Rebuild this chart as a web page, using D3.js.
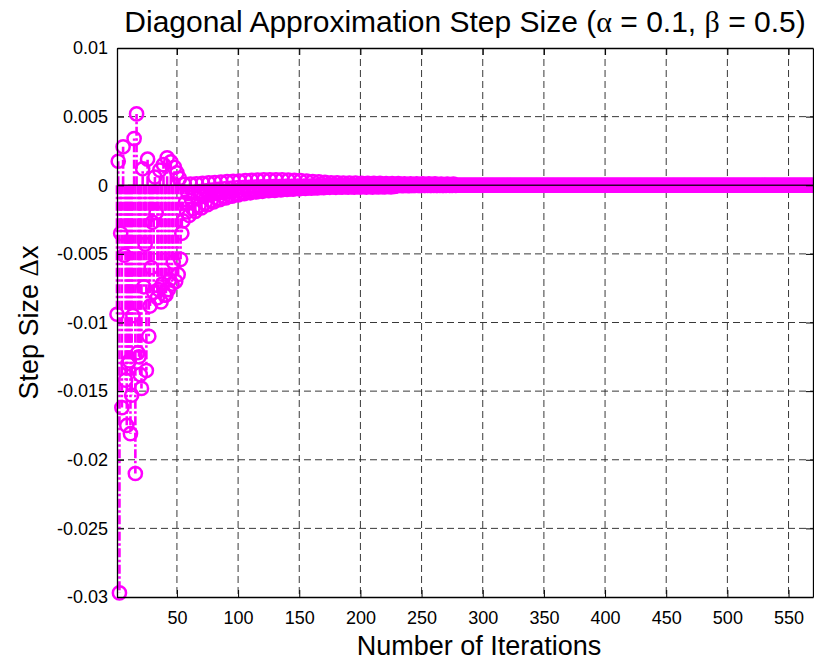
<html>
<head>
<meta charset="utf-8">
<title>Diagonal Approximation Step Size</title>
<style>
    body{margin:0;background:#fff;}
    text{font-family:"Liberation Sans",Arial,sans-serif;fill:#000;}
    .greek{font-family:"Liberation Serif","Times New Roman",serif;}
</style>
</head>
<body>
<script src="https://cdn.jsdelivr.net/npm/d3@7/dist/d3.min.js"></script>
<script>
    var width=814;
    var height=661;

    // step sizes, in units of 1e-5
    var stepUnit=1e-5;
    var earlyStart=1;      // iterations 1..54, large oscillating steps
    var earlySteps=[
        -940, 175, -2970, -350, -1620, 280, -510, -1420, -1750, -1300,
        -1280, -1810, -1530, -950, 340, -2100, 520, -1220, -1250, -1380,
        -1480, 120, -740, -430, -1350, 190, -1100, -880, -600, -270,
        -780, 60, -200, -820, -760, 110, -850, -720, 150, -800,
        -800, 200, -760, -690, 170, -720, -560, 130, -700, 90,
        -650, 50, -540, -350
    ];
    var settleStart=55;    // iterations 55..279, converging towards zero
    var settleSteps=[
        -260, 6, -125, -195, -60,   -220, 8, -108, -172, -54,
        -190, 11, -93, -150, -46,   -165, 14, -81, -130, -40,
        -142, 17, -70, -112, -35,   -122, 20, -60, -96, -30,
        -105, 23, -52, -83, -26,    -92, 26, -45, -73, -22,
        -80, 28, -39, -63, -19,     -70, 31, -34, -55, -17,
        -62, 34, -30, -49, -15,     -55, 36, -27, -43, -13,
        -49, 38, -24, -39, -12,     -44, 39, -22, -35, -11,
        -40, 40, -20, -32, -10,     -37, 40, -18, -29, -9,
        -34, 39, -17, -27, -8,      -31, 37, -15, -25, -8,
        -28, 35, -14, -22, -7,      -26, 33, -13, -21, -6,
        -23, 30, -12, -18, -6,      -21, 27, -10, -17, -5,
        -19, 24, -9, -15, -5,       -17, 21, -8, -14, -4,
        -15, 18, -8, -12, -4,       -15, 17, -7, -12, -4,
        -14, 16, -7, -11, -3,       -14, 15, -7, -11, -3,
        -14, 15, -7, -11, -3,       -13, 14, -6, -10, -3,
        -13, 14, -6, -10, -3,       -13, 13, -6, -10, -3,
        -12, 13, -6, -10, -3,       -12, 12, -6, -9, -3,
        -12, 12, -6, -9, -3,        -3, 12, -2, -2, -1,
        -3, 11, -2, -2, -1,         -3, 11, -2, -2, -1,
        -2, 11, -1, -2, -1,         -2, 11, -1, -2, 0,
        -2, 10, -1, -1, 0,          -2, 10, -1, -1, 0,
        -1, 9, -1, -1, 0,           -1, 9, 0, -1, 0,
        -1, 8, 0, -1, 0
    ];
    var tailStart=280;     // iterations 280..570, settled at zero
    var tailSteps=[
        0,0,0,0,0,0,0,0,0,0,0,0,0,0,0,0,0,0,0,0,0,0,0,0,0,0,0,0,0,0,
        0,0,0,0,0,0,0,0,0,0,0,0,0,0,0,0,0,0,0,0,0,0,0,0,0,0,0,0,0,0,
        0,0,0,0,0,0,0,0,0,0,0,0,0,0,0,0,0,0,0,0,0,0,0,0,0,0,0,0,0,0,
        0,0,0,0,0,0,0,0,0,0,0,0,0,0,0,0,0,0,0,0,0,0,0,0,0,0,0,0,0,0,
        0,0,0,0,0,0,0,0,0,0,0,0,0,0,0,0,0,0,0,0,0,0,0,0,0,0,0,0,0,0,
        0,0,0,0,0,0,0,0,0,0,0,0,0,0,0,0,0,0,0,0,0,0,0,0,0,0,0,0,0,0,
        0,0,0,0,0,0,0,0,0,0,0,0,0,0,0,0,0,0,0,0,0,0,0,0,0,0,0,0,0,0,
        0,0,0,0,0,0,0,0,0,0,0,0,0,0,0,0,0,0,0,0,0,0,0,0,0,0,0,0,0,0,
        0,0,0,0,0,0,0,0,0,0,0,0,0,0,0,0,0,0,0,0,0,0,0,0,0,0,0,0,0,0,
        0,0,0,0,0,0,0,0,0,0,0,0,0,0,0,0,0,0,0,0,0
    ];
    var xDomain=[1,570];
    var yDomain=[-0.03,0.01];
    var xTicks=[50,100,150,200,250,300,350,400,450,500,550];
    var yTicks=[0.01,0.005,0,-0.005,-0.01,-0.015,-0.02,-0.025,-0.03];
    var yTickLabels=['0.01','0.005','0','-0.005','-0.01','-0.015','-0.02','-0.025','-0.03'];

    var plotLeft=117, plotRight=813, plotTop=48, plotBottom=597;

    function toPoints(start,arr){
        return arr.map(function(v,i){ return {n:start+i, v:v*stepUnit}; });
    }
    var points=toPoints(earlyStart,earlySteps)
            .concat(toPoints(settleStart,settleSteps))
            .concat(toPoints(tailStart,tailSteps));

    var svg=d3.select('body')
            .append('svg')
            .attr('width',width)
            .attr('height',height);

    var x=d3.scaleLinear().domain(xDomain).range([plotLeft,plotRight]);
    var y=d3.scaleLinear().domain(yDomain).range([plotBottom,plotTop]);

    // dashed grid
    var grid=svg.append('g')
            .attr('stroke','#222')
            .attr('stroke-width',0.9)
            .attr('stroke-dasharray','7,4');
    grid.selectAll('line.gx')
            .data(xTicks)
            .enter()
            .append('line')
            .attr('x1',function(d){ return x(d); })
            .attr('x2',function(d){ return x(d); })
            .attr('y1',plotTop)
            .attr('y2',plotBottom);
    grid.selectAll('line.gy')
            .data(yTicks.slice(1,-1))
            .enter()
            .append('line')
            .attr('x1',plotLeft)
            .attr('x2',plotRight)
            .attr('y1',function(d){ return y(d); })
            .attr('y2',function(d){ return y(d); });

    // stems (dash-dot, starting at the baseline)
    svg.append('g')
            .selectAll('line')
            .data(points.filter(function(d){ return d.v!==0; }))
            .enter()
            .append('line')
            .attr('x1',function(d){ return x(d.n); })
            .attr('x2',function(d){ return x(d.n); })
            .attr('y1',y(0))
            .attr('y2',function(d){ return y(d.v); })
            .attr('stroke','#ff00ff')
            .attr('stroke-width',2.6)
            .attr('stroke-dasharray','9,2.5,2.5,2.5');

    // markers
    svg.append('g')
            .selectAll('circle')
            .data(points)
            .enter()
            .append('circle')
            .attr('cx',function(d){ return x(d.n); })
            .attr('cy',function(d){ return y(d.v); })
            .attr('r',6.6)
            .attr('fill','none')
            .attr('stroke','#ff00ff')
            .attr('stroke-width',2.5);

    // baseline
    svg.append('line')
            .attr('x1',plotLeft)
            .attr('x2',plotRight)
            .attr('y1',y(0))
            .attr('y2',y(0))
            .attr('stroke','#300030')
            .attr('stroke-width',1.6);

    // axes, ticks pointing inwards on all four sides
    svg.append('g')
            .attr('transform','translate(0,'+plotBottom+')')
            .call(d3.axisBottom(x).tickValues(xTicks).tickSizeInner(-7).tickSizeOuter(0).tickPadding(14));
    svg.append('g')
            .attr('transform','translate(0,'+plotTop+')')
            .call(d3.axisTop(x).tickValues(xTicks).tickSizeInner(-7).tickSizeOuter(0).tickFormat(''));
    svg.append('g')
            .attr('transform','translate('+plotLeft+',0)')
            .call(d3.axisLeft(y).tickValues(yTicks).tickSizeInner(-7).tickSizeOuter(0).tickPadding(9)
                    .tickFormat(function(d,i){ return yTickLabels[i]; }));
    svg.append('g')
            .attr('transform','translate('+plotRight+',0)')
            .call(d3.axisRight(y).tickValues(yTicks).tickSizeInner(-7).tickSizeOuter(0).tickFormat(''));
    svg.selectAll('.domain').attr('stroke','#000').attr('stroke-width',1.3);
    svg.selectAll('.tick line').attr('stroke','#000');
    svg.selectAll('.tick text')
            .style('font-family','"Liberation Sans",Arial,sans-serif')
            .style('font-size','18px')
            .attr('fill','#000');

    // title and axis labels
    var title=svg.append('text')
            .attr('x',(plotLeft+plotRight)/2)
            .attr('y',32)
            .attr('text-anchor','middle')
            .style('font-size','30px');
    title.append('tspan').text('Diagonal Approximation Step Size (');
    title.append('tspan').attr('class','greek').text('α');
    title.append('tspan').text(' = 0.1, ');
    title.append('tspan').attr('class','greek').text('β');
    title.append('tspan').text(' = 0.5)');

    svg.append('text')
            .attr('x',479)
            .attr('y',655)
            .attr('text-anchor','middle')
            .style('font-size','27px')
            .text('Number of Iterations');

    var ylab=svg.append('text')
            .attr('transform','translate(38,'+(plotTop+plotBottom)/2+') rotate(-90)')
            .attr('text-anchor','middle')
            .style('font-size','27px');
    ylab.append('tspan').text('Step Size ');
    ylab.append('tspan').attr('class','greek').text('Δ');
    ylab.append('tspan').text('x');
</script>
</body>
</html>
